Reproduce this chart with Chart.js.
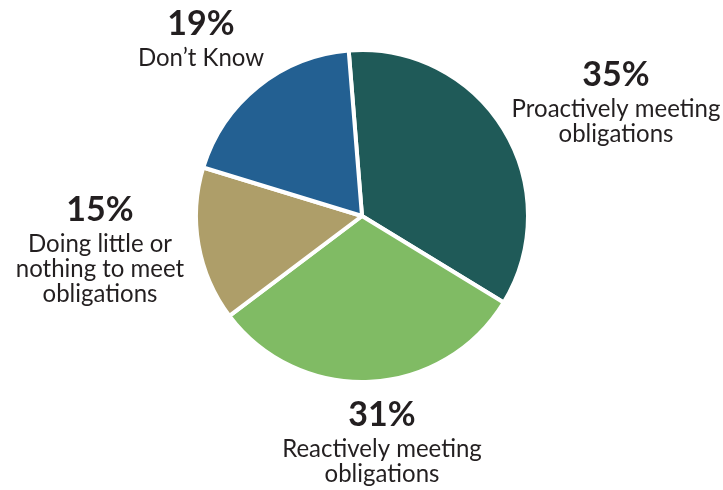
<!DOCTYPE html>
<html>
<head>
<meta charset="utf-8">
<script src="https://cdn.jsdelivr.net/npm/chart.js@4.4.1/dist/chart.umd.min.js"></script>
<style>
  html, body { margin: 0; padding: 0; background: #ffffff; }
  #wrap { width: 723px; height: 490px; }
</style>
</head>
<body>
<div id="wrap"><canvas id="pie" width="723" height="490"></canvas></div>
<script>
// Survey shares, clockwise from the top
const categories = [
  'Proactively meeting obligations',
  'Reactively meeting obligations',
  'Doing little or nothing to meet obligations',
  "Don\u2019t Know"
];
const shares = [35, 31, 15, 19];
const sliceColors = ['#1f5a58', '#80bb64', '#ae9e69', '#236092'];

// Multi-line captions and where each caption block is centred (canvas px)
const captionLines = [
  ['Proactively meeting', 'obligations'],
  ['Reactively meeting', 'obligations'],
  ['Doing little or', 'nothing to meet', 'obligations'],
  ["Don\u2019t Know"]
];
const captionAnchors = [
  { x: 616, y: 86 },   // baseline of the percentage line
  { x: 382, y: 426 },
  { x: 100, y: 221 },
  { x: 201, y: 35 }
];

const TEXT_COLOR = '#231f20';
const FONT_FAMILY = "Lato, 'Open Sans', 'DejaVu Sans', sans-serif";

const sliceCaptions = {
  id: 'sliceCaptions',
  afterDraw(chart) {
    const ctx = chart.ctx;
    const values = chart.data.datasets[0].data;
    ctx.save();
    ctx.fillStyle = TEXT_COLOR;
    ctx.textAlign = 'center';
    ctx.textBaseline = 'alphabetic';
    values.forEach((v, i) => {
      const a = captionAnchors[i];
      ctx.font = 'bold 34px ' + FONT_FAMILY;
      ctx.fillText(v + '%', a.x, a.y);
      ctx.font = '25px ' + FONT_FAMILY;
      captionLines[i].forEach((line, k) => {
        const w = ctx.measureText(line).width;
        ctx.fillText(line, a.x, a.y + 31 + k * 25, w * 0.96);
      });
    });
    ctx.restore();
  }
};

new Chart(document.getElementById('pie'), {
  type: 'pie',
  data: {
    labels: categories,
    datasets: [{
      data: shares,
      backgroundColor: sliceColors,
      borderColor: '#ffffff',
      borderWidth: 4
    }]
  },
  options: {
    responsive: false,
    animation: false,
    rotation: -4.6,
    layout: { padding: { left: 194, right: 193, top: 48, bottom: 106 } },
    plugins: {
      legend: { display: false },
      tooltip: { enabled: false },
      title: { display: false }
    }
  },
  plugins: [sliceCaptions]
});
</script>
</body>
</html>
